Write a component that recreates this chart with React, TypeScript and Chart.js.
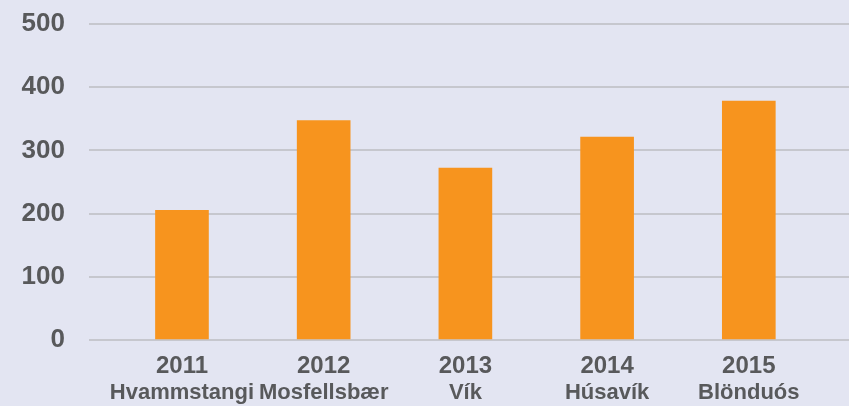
import React, { useEffect, useRef } from "react";
import { Chart, registerables } from "chart.js";

Chart.register(...registerables);

const years = ["2011", "2012", "2013", "2014", "2015"];
const places = ["Hvammstangi", "Mosfellsbær", "Vík", "Húsavík", "Blönduós"];
const values = [205, 347, 272, 321, 378];
const yTicks = [0, 100, 200, 300, 400, 500];

const TEXT = "#58595b";
const BG = "#e3e5f2";
const BAR = "#f7941e";
const GRID = "#c6c7ce";
const FONT = "'Liberation Sans', Arial, sans-serif";

const bgPlugin = {
  id: "bg",
  beforeDraw(chart: any) {
    const { ctx, width, height } = chart;
    ctx.save();
    ctx.fillStyle = BG;
    ctx.fillRect(0, 0, width, height);
    ctx.restore();
  },
};

// second line of category labels (place names), positioned by the x scale
const placesPlugin = {
  id: "places",
  afterDraw(chart: any) {
    const { ctx, chartArea } = chart;
    const xs = chart.scales.x;
    ctx.save();
    ctx.fillStyle = TEXT;
    ctx.font = `bold 22px ${FONT}`;
    ctx.textAlign = "center";
    ctx.textBaseline = "middle";
    places.forEach((p, i) => {
      ctx.fillText(p, xs.getPixelForValue(i), chartArea.bottom + 53);
    });
    ctx.restore();
  },
};

export default function App() {
  const ref = useRef<HTMLCanvasElement | null>(null);

  useEffect(() => {
    if (!ref.current) return;
    document.body.style.margin = "0";
    const chart = new Chart(ref.current, {
      type: "bar",
      data: {
        datasets: [
          {
            data: values.map((v, i) => ({ x: i, y: v })),
            backgroundColor: BAR,
            borderWidth: 0,
            barThickness: 53,
          },
        ],
      },
      options: {
        responsive: false,
        animation: false,
        layout: { padding: { top: 24, left: 0, right: 0, bottom: 14 } },
        plugins: {
          legend: { display: false },
          tooltip: { enabled: false },
        },
        scales: {
          x: {
            type: "linear",
            position: "bottom",
            offset: false,
            min: -0.656,
            max: 4.707,
            afterBuildTicks: (axis: any) => {
              axis.ticks = years.map((_, i) => ({ value: i }));
            },
            afterFit: (axis: any) => {
              axis.paddingLeft = 0;
              axis.paddingRight = 0;
            },
            grid: { display: false, drawTicks: false, offset: false },
            border: { display: false },
            ticks: {
              padding: 12,
              autoSkip: false,
              maxRotation: 0,
              color: TEXT,
              font: { family: FONT, size: 24, weight: "bold", lineHeight: 28 / 24 },
              callback: (v: any) => years[v] ?? "",
            },
          },
          y: {
            min: 0,
            max: 500,
            afterBuildTicks: (axis: any) => {
              axis.ticks = yTicks.map((v) => ({ value: v }));
            },
            afterFit: (axis: any) => {
              axis.width = 89;
              axis.paddingTop = 0;
              axis.paddingBottom = 0;
            },
            grid: { color: GRID, lineWidth: 2, drawTicks: false },
            border: { display: false },
            ticks: {
              padding: 24,
              color: TEXT,
              font: { family: FONT, size: 26, weight: "bold" },
            },
          },
        },
      } as any,
      plugins: [bgPlugin, placesPlugin],
    });
    return () => chart.destroy();
  }, []);

  return (
    <div style={{ position: "absolute", left: 0, top: 0, width: 849, height: 406 }}>
      <canvas ref={ref} width={849} height={406} style={{ display: "block" }} />
    </div>
  );
}
